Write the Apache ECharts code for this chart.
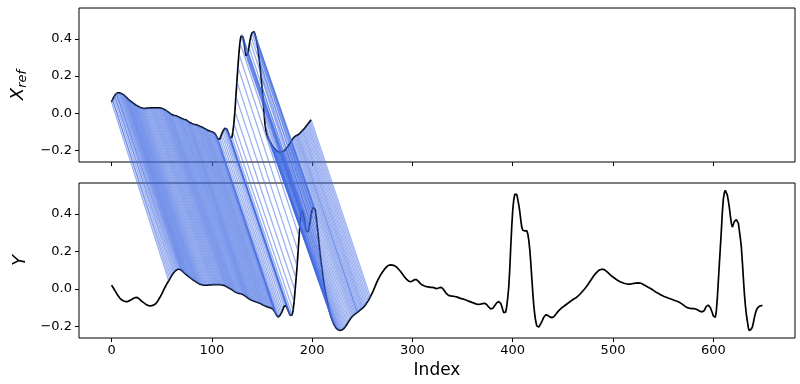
<!DOCTYPE html>
<html><head><meta charset="utf-8">
<script src="https://cdn.jsdelivr.net/npm/echarts@6/dist/echarts.min.js"></script>
<style>html,body{margin:0;padding:0;background:#fff}#c{width:800px;height:384px}</style>
</head><body><div id="c"></div>
<script>
// Reference signal X_ref (index 0..199)
const xRef = [
0.06,0.072,0.084,0.094,0.101,0.106,0.109,0.11,0.109,0.107,
0.104,0.102,0.099,0.094,0.089,0.084,0.078,0.073,0.068,0.064,
0.06,0.056,0.052,0.048,0.044,0.041,0.038,0.035,0.032,0.03,
0.028,0.026,0.025,0.025,0.026,0.026,0.027,0.027,0.027,0.028,
0.028,0.028,0.028,0.028,0.028,0.028,0.029,0.029,0.028,0.027,
0.026,0.024,0.021,0.018,0.015,0.012,0.008,0.004,0,-0.004,
-0.008,-0.01,-0.012,-0.013,-0.014,-0.016,-0.018,-0.02,-0.023,-0.026,
-0.029,-0.031,-0.033,-0.034,-0.036,-0.039,-0.043,-0.047,-0.051,-0.054,
-0.056,-0.058,-0.06,-0.061,-0.062,-0.064,-0.066,-0.069,-0.071,-0.073,
-0.075,-0.078,-0.081,-0.084,-0.087,-0.09,-0.093,-0.095,-0.097,-0.099,
-0.1,-0.102,-0.105,-0.11,-0.118,-0.128,-0.14,-0.149,-0.14,-0.125,
-0.11,-0.097,-0.087,-0.081,-0.08,-0.087,-0.1,-0.115,-0.132,-0.142,
-0.13,-0.1,-0.055,0.01,0.09,0.17,0.25,0.32,0.38,0.415,
0.425,0.41,0.385,0.345,0.31,0.3,0.315,0.355,0.39,0.415,
0.432,0.44,0.439,0.425,0.405,0.38,0.345,0.3,0.256,0.2,
0.14,0.078,0.005,-0.06,-0.095,-0.118,-0.133,-0.144,-0.155,-0.165,
-0.174,-0.182,-0.188,-0.194,-0.199,-0.204,-0.208,-0.21,-0.211,-0.21,
-0.208,-0.206,-0.203,-0.198,-0.192,-0.185,-0.178,-0.171,-0.162,-0.152,
-0.143,-0.135,-0.13,-0.126,-0.122,-0.119,-0.117,-0.113,-0.108,-0.101,
-0.095,-0.091,-0.085,-0.078,-0.071,-0.064,-0.057,-0.05,-0.043,-0.036
];
// Query signal Y (index 0..649)
const ySig = [
0.02,0.012,0.003,-0.006,-0.015,-0.024,-0.033,-0.041,-0.048,-0.055,
-0.059,-0.062,-0.065,-0.067,-0.068,-0.068,-0.068,-0.066,-0.063,-0.06,
-0.057,-0.054,-0.05,-0.047,-0.046,-0.046,-0.047,-0.051,-0.056,-0.061,
-0.066,-0.07,-0.074,-0.078,-0.082,-0.085,-0.088,-0.09,-0.091,-0.091,
-0.09,-0.089,-0.087,-0.084,-0.08,-0.074,-0.066,-0.057,-0.048,-0.038,
-0.028,-0.017,-0.006,0.005,0.015,0.025,0.034,0.043,0.053,0.063,
0.072,0.08,0.087,0.093,0.098,0.102,0.105,0.106,0.105,0.102,
0.098,0.093,0.088,0.083,0.078,0.074,0.07,0.065,0.061,0.057,
0.053,0.049,0.045,0.042,0.038,0.035,0.031,0.028,0.026,0.024,
0.022,0.021,0.02,0.02,0.02,0.02,0.02,0.021,0.021,0.021,
0.022,0.022,0.022,0.022,0.022,0.022,0.022,0.022,0.022,0.022,
0.021,0.02,0.019,0.017,0.014,0.011,0.008,0.005,0.002,-0.001,
-0.004,-0.008,-0.012,-0.016,-0.019,-0.021,-0.023,-0.024,-0.025,-0.026,
-0.028,-0.03,-0.033,-0.037,-0.041,-0.045,-0.049,-0.053,-0.056,-0.059,
-0.062,-0.064,-0.066,-0.068,-0.07,-0.072,-0.074,-0.076,-0.078,-0.08,
-0.083,-0.086,-0.089,-0.091,-0.093,-0.095,-0.097,-0.099,-0.1,-0.102,
-0.104,-0.108,-0.115,-0.125,-0.136,-0.146,-0.151,-0.149,-0.142,-0.133,
-0.122,-0.108,-0.094,-0.087,-0.09,-0.1,-0.114,-0.128,-0.141,-0.148,
-0.14,-0.115,-0.07,-0.01,0.055,0.12,0.2,0.28,0.35,0.405,
0.418,0.405,0.375,0.34,0.31,0.3,0.305,0.325,0.36,0.395,
0.42,0.435,0.438,0.425,0.39,0.34,0.29,0.235,0.185,0.14,
0.1,0.055,0.02,-0.011,-0.04,-0.065,-0.09,-0.113,-0.135,-0.152,
-0.167,-0.18,-0.193,-0.203,-0.21,-0.215,-0.219,-0.221,-0.222,-0.221,
-0.219,-0.215,-0.21,-0.204,-0.196,-0.187,-0.178,-0.169,-0.161,-0.154,
-0.148,-0.143,-0.138,-0.134,-0.13,-0.126,-0.122,-0.118,-0.113,-0.108,
-0.104,-0.1,-0.094,-0.087,-0.079,-0.071,-0.063,-0.053,-0.043,-0.032,
-0.021,-0.01,0.003,0.016,0.029,0.041,0.052,0.062,0.072,0.081,
0.089,0.097,0.104,0.11,0.116,0.121,0.125,0.127,0.128,0.128,
0.127,0.126,0.124,0.121,0.117,0.112,0.106,0.1,0.094,0.087,
0.079,0.072,0.065,0.058,0.052,0.046,0.042,0.039,0.038,0.039,
0.042,0.046,0.049,0.05,0.049,0.045,0.04,0.034,0.028,0.024,
0.02,0.017,0.015,0.013,0.012,0.011,0.01,0.009,0.008,0.008,
0.008,0.007,0.005,0.002,0,0.001,0.004,0.007,0.008,0.007,
0.003,-0.003,-0.011,-0.019,-0.026,-0.031,-0.035,-0.037,-0.038,-0.039,
-0.039,-0.04,-0.041,-0.042,-0.043,-0.045,-0.047,-0.049,-0.051,-0.053,
-0.054,-0.055,-0.057,-0.059,-0.061,-0.063,-0.066,-0.068,-0.07,-0.072,
-0.074,-0.076,-0.078,-0.08,-0.082,-0.083,-0.083,-0.083,-0.082,-0.081,
-0.079,-0.077,-0.077,-0.079,-0.084,-0.09,-0.097,-0.103,-0.107,-0.108,
-0.105,-0.099,-0.091,-0.083,-0.075,-0.07,-0.068,-0.07,-0.078,-0.092,
-0.11,-0.127,-0.135,-0.125,-0.095,-0.05,0.007,0.1,0.22,0.33,
0.42,0.475,0.505,0.513,0.505,0.48,0.45,0.415,0.37,0.33,
0.313,0.31,0.31,0.312,0.31,0.295,0.26,0.21,0.14,0.06,
-0.02,-0.09,-0.14,-0.175,-0.198,-0.207,-0.205,-0.197,-0.186,-0.175,
-0.163,-0.152,-0.143,-0.139,-0.139,-0.142,-0.146,-0.15,-0.153,-0.154,
-0.153,-0.149,-0.143,-0.136,-0.129,-0.122,-0.116,-0.111,-0.106,-0.101,
-0.097,-0.093,-0.089,-0.085,-0.081,-0.077,-0.073,-0.069,-0.065,-0.061,
-0.057,-0.054,-0.051,-0.048,-0.044,-0.039,-0.034,-0.029,-0.023,-0.017,
-0.011,-0.005,0.001,0.008,0.015,0.023,0.031,0.039,0.047,0.055,
0.063,0.071,0.078,0.084,0.09,0.095,0.099,0.102,0.104,0.105,
0.105,0.103,0.1,0.096,0.091,0.086,0.081,0.076,0.071,0.067,
0.063,0.059,0.055,0.051,0.047,0.044,0.041,0.038,0.036,0.034,
0.032,0.03,0.028,0.027,0.026,0.025,0.025,0.025,0.026,0.027,
0.028,0.029,0.03,0.031,0.032,0.032,0.032,0.031,0.029,0.027,
0.024,0.021,0.018,0.015,0.012,0.009,0.006,0.003,0,-0.004,
-0.007,-0.011,-0.014,-0.018,-0.021,-0.024,-0.027,-0.03,-0.033,-0.036,
-0.039,-0.041,-0.043,-0.045,-0.047,-0.049,-0.051,-0.053,-0.055,-0.057,
-0.059,-0.061,-0.063,-0.065,-0.067,-0.069,-0.072,-0.075,-0.078,-0.082,
-0.086,-0.09,-0.094,-0.097,-0.1,-0.102,-0.104,-0.105,-0.106,-0.106,
-0.106,-0.106,-0.107,-0.109,-0.112,-0.115,-0.118,-0.121,-0.123,-0.123,
-0.121,-0.116,-0.105,-0.094,-0.088,-0.087,-0.093,-0.1,-0.11,-0.128,
-0.145,-0.155,-0.153,-0.12,-0.05,0.04,0.13,0.22,0.31,0.41,
0.48,0.515,0.527,0.522,0.5,0.47,0.434,0.39,0.35,0.33,
0.345,0.36,0.368,0.37,0.365,0.35,0.31,0.27,0.22,0.14,
0.055,-0.028,-0.09,-0.14,-0.175,-0.21,-0.224,-0.222,-0.214,-0.203,
-0.18,-0.152,-0.13,-0.114,-0.103,-0.096,-0.093,-0.091,-0.09,-0.09
];
// Warping path, as diagonal runs: [X_ref start index, Y start index, run length]
const pathRuns = [[0,57,2],[1,59,3],[3,62,3],[5,65,100],[105,164,13],[117,177,69],[186,245,14]];
const xTicks = [0,100,200,300,400,500,600];
const yTicks = [-0.2,0,0.2,0.4];

const pairs = [];
pathRuns.forEach(([i0,j0,n]) => { for (let k=0;k<n;k++){ const i=i0+k, j=j0+k; pairs.push([j, ySig[j], i, xRef[i]]); } });

const chart = echarts.init(document.getElementById('c'), null, {renderer:'canvas'});
const FONT = 'DejaVu Sans';
const fmtY = v => (v < 0 ? '\u2212' : '') + Math.abs(v).toFixed(1);
function xAxisCfg(g, labels){
  return {gridIndex:g, type:'value', min:-32.45, max:681.45, position:'bottom',
    axisLine:{show:false, onZero:false}, splitLine:{show:false},
    axisTick:{show:true, customValues:xTicks, length:4, lineStyle:{color:'#000', width:1}},
    axisLabel:{show:labels, customValues:xTicks, fontSize:13, fontFamily:FONT, color:'#000', margin:6},
    name: labels ? 'Index' : '', nameLocation:'middle', nameGap:24,
    nameTextStyle:{fontSize:17, fontFamily:FONT, color:'#000'}};
}
function yAxisCfg(g, name, rich){
  return {gridIndex:g, type:'value', min:-0.263, max:0.566, position:'left',
    axisLine:{show:false, onZero:false}, splitLine:{show:false},
    axisTick:{show:true, customValues:yTicks, length:4, lineStyle:{color:'#000', width:1}},
    axisLabel:{customValues:yTicks, formatter:fmtY, fontSize:13, fontFamily:FONT, color:'#000', margin:7},
    name:name, nameLocation:'middle', nameRotate:90, nameGap:46,
    nameTextStyle:{fontSize:18, fontFamily:FONT, color:'#000', fontStyle:'italic', rich:rich}};
}
const richRef = {
  a:{fontSize:18, fontFamily:FONT, fontStyle:'italic', color:'#000'},
  b:{fontSize:13, fontFamily:FONT, fontStyle:'italic', color:'#000', padding:[9,0,0,0]}
};
chart.setOption({
  animation:false,
  grid:[
    {left:79, top:8, width:716, height:154, show:true, borderColor:'#000', borderWidth:1, backgroundColor:'transparent'},
    {left:79, top:183, width:716, height:155, show:true, borderColor:'#000', borderWidth:1, backgroundColor:'transparent'}
  ],
  xAxis:[xAxisCfg(0,false), xAxisCfg(1,true)],
  yAxis:[yAxisCfg(0,'{a|X}{b|ref}', richRef), yAxisCfg(1,'Y', null)],
  series:[
    {type:'line', xAxisIndex:0, yAxisIndex:0, data:xRef.map((v,i)=>[i,v]), showSymbol:false,
     lineStyle:{color:'#000', width:1.7}, z:2, silent:true},
    {type:'line', xAxisIndex:1, yAxisIndex:1, data:ySig.map((v,j)=>[j,v]), showSymbol:false,
     lineStyle:{color:'#000', width:1.7}, z:2, silent:true},
    {type:'custom', xAxisIndex:1, yAxisIndex:1, data:pairs, encode:{x:0, y:1}, z:5, silent:true, clip:false,
     renderItem:function(params, api){
       const b = api.coord([api.value(0), api.value(1)]);
       const t = chart.convertToPixel({xAxisIndex:0, yAxisIndex:0}, [api.value(2), api.value(3)]);
       return {type:'line', shape:{x1:t[0], y1:t[1], x2:b[0], y2:b[1]},
         style:{stroke:'rgba(65,105,225,0.55)', lineWidth:1.2}};
     }}
  ]
});
</script></body></html>
